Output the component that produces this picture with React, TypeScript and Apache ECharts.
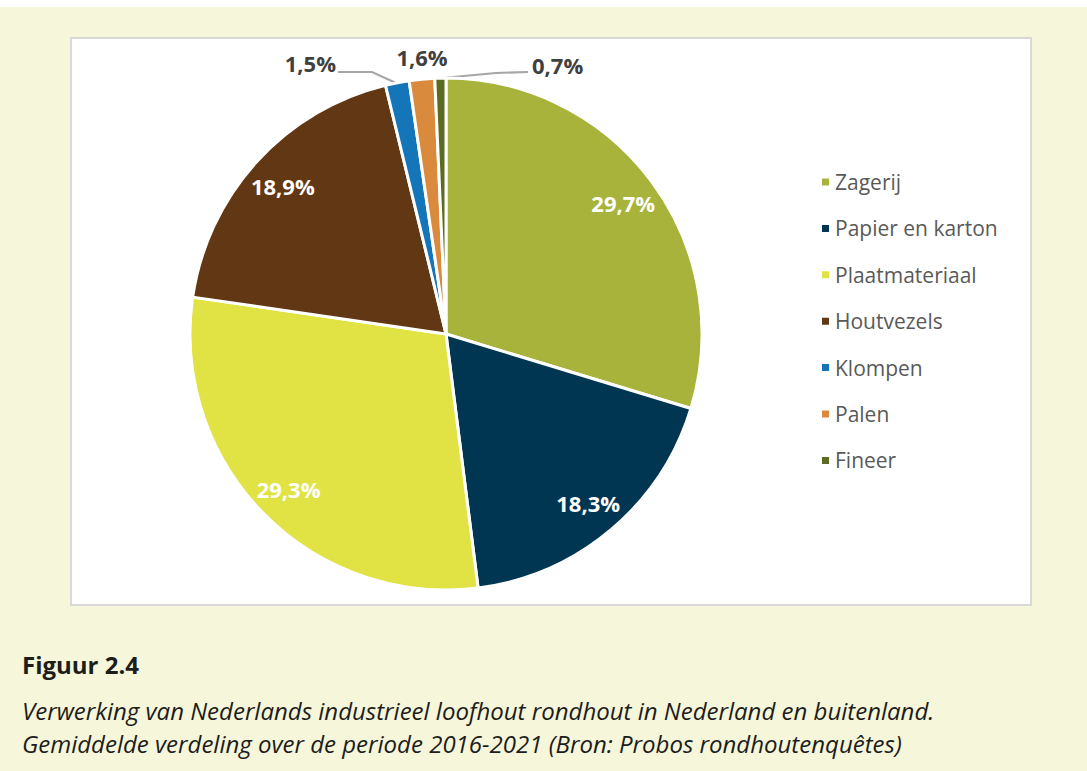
import React, { useEffect, useRef } from "react";
import * as echarts from "echarts";

const categories = ["Zagerij", "Papier en karton", "Plaatmateriaal", "Houtvezels", "Klompen", "Palen", "Fineer"];
const shares = [29.7, 18.3, 29.3, 18.9, 1.5, 1.6, 0.7];
const colors = ["#a8b33b", "#013653", "#e1e345", "#613714", "#1475b9", "#d98a3c", "#5c6b22"];
const captionTitle = "Figuur 2.4";
const captionLines = [
  "Verwerking van Nederlands industrieel loofhout rondhout in Nederland en buitenland.",
  "Gemiddelde verdeling over de periode 2016-2021 (Bron: Probos rondhoutenquêtes)",
];

const fmt = (v: number) => v.toFixed(1).replace(".", ",") + "%";
const FONT = "'Open Sans', 'Noto Sans', sans-serif";

export default function App() {
  const ref = useRef<HTMLDivElement>(null);
  useEffect(() => {
    if (!ref.current) return;
    const chart = echarts.init(ref.current, null, { renderer: "svg" });
    const cx = 446, cy = 334, R = 256;
    const small = (i: number) => shares[i] < 5;
    const data = categories.map((c, i) => ({
      name: c,
      value: shares[i],
      itemStyle: { color: colors[i] },
    }));
    chart.setOption({
      animation: false,
      backgroundColor: "#ffffff",
      graphic: [
        { type: "rect", left: 0, top: 7, shape: { width: 1087, height: 764 }, style: { fill: "#f6f6da" }, z: -10 },
        { type: "rect", left: 70, top: 37, shape: { width: 960, height: 567 }, style: { fill: "#ffffff", stroke: "#d9d9d9", lineWidth: 2 }, z: -9 },
        { type: "text", left: 22, top: 652, style: { text: captionTitle, font: `bold 24px ${FONT}`, fill: "#1d1d1b" } },
        { type: "text", left: 22, top: 698, style: { text: captionLines[0], font: `italic 24px ${FONT}`, fill: "#1d1d1b" } },
        { type: "text", left: 22, top: 731, style: { text: captionLines[1], font: `italic 24px ${FONT}`, fill: "#1d1d1b" } },
      ],
      legend: {
        orient: "vertical",
        left: 815,
        top: 165,
        data: categories,
        icon: "rect",
        itemWidth: 9,
        itemHeight: 9,
        itemGap: 22.4,
        textStyle: { fontFamily: FONT, fontSize: 21, color: "#595959", lineHeight: 24 },
      },
      series: [
        {
          type: "pie",
          center: [cx, cy],
          radius: [0, R],
          startAngle: 90,
          clockwise: true,
          data: data.map((d, i) => ({
            ...d,
            label: { show: small(i) },
            labelLine: { show: small(i) && i !== 5 },
          })),
          itemStyle: { borderColor: "#ffffff", borderWidth: 3 },
          label: {
            position: "outside",
            formatter: (p: any) => fmt(p.value),
            fontFamily: FONT,
            fontWeight: "bold",
            fontSize: 22,
            color: "#404040",
          },
          labelLine: { length: 10, length2: 20, lineStyle: { color: "#a6a6a6", width: 2 } },
          labelLayout: (p: any) => {
            if (p.dataIndex === 4) return { x: cx - 110, y: cy - 271, align: "right", verticalAlign: "middle", labelLinePoints: [[cx - 50, cy - 251], [cx - 74, cy - 262], [cx - 108, cy - 262]] };
            if (p.dataIndex === 5) return { x: cx - 24, y: cy - 277, align: "center", verticalAlign: "middle" };
            if (p.dataIndex === 6) return { x: cx + 86, y: cy - 269, align: "left", verticalAlign: "middle", labelLinePoints: [[cx - 4, cy - 256], [cx + 50, cy - 261], [cx + 82, cy - 262]] };
            return {};
          },
          emphasis: { disabled: true },
        },
        {
          type: "pie",
          center: [cx, cy],
          radius: [R * 0.7, R],
          startAngle: 90,
          clockwise: true,
          silent: true,
          data: data.map((d, i) => ({
            name: d.name,
            value: d.value,
            itemStyle: { color: "transparent", borderWidth: 0 },
            label: { show: !small(i) },
          })),
          label: {
            position: "inside",
            formatter: (p: any) => fmt(p.value),
            fontFamily: FONT,
            fontWeight: "bold",
            fontSize: 22,
            color: "#ffffff",
          },
          labelLine: { show: false },
          emphasis: { disabled: true },
          legendHoverLink: false,
        },
      ],
    });
    return () => chart.dispose();
  }, []);
  return <div ref={ref} style={{ position: "absolute", left: 0, top: 0, width: 1087, height: 771 }} />;
}
